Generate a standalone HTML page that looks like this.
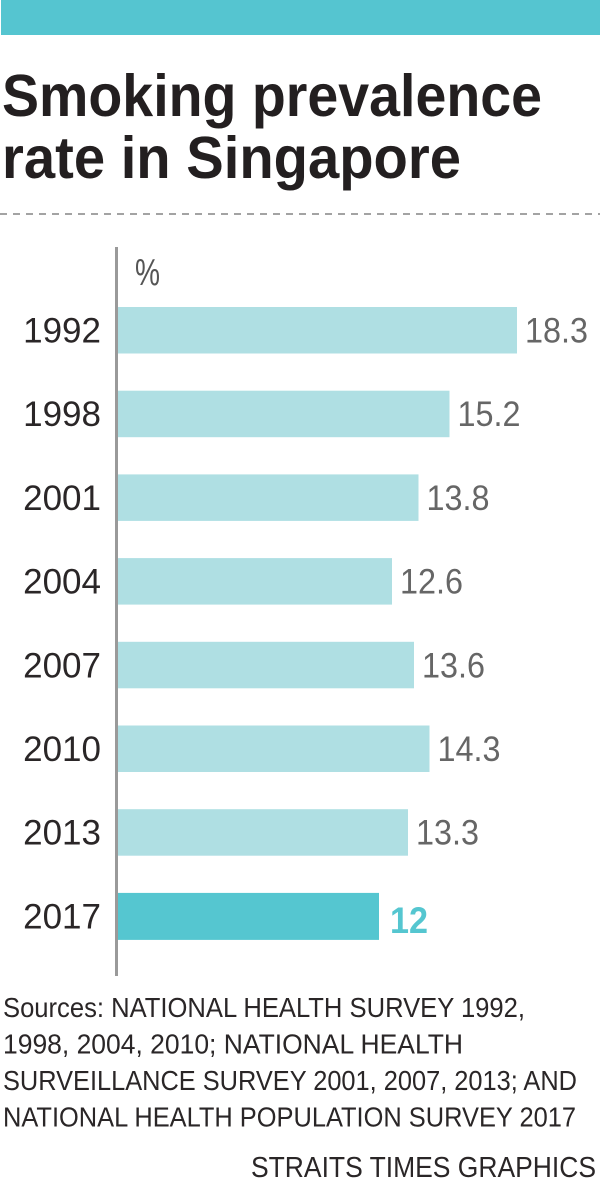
<!DOCTYPE html>
<html>
<head>
<meta charset="utf-8">
<style>
  html, body { margin: 0; padding: 0; background: #ffffff; }
  body { width: 600px; height: 1181px; overflow: hidden; }
  svg { display: block; }
  text { font-family: "Liberation Sans", "DejaVu Sans", sans-serif; }
</style>
</head>
<body>
<svg width="600" height="1181" viewBox="0 0 600 1181" xmlns="http://www.w3.org/2000/svg">
  <!-- top teal band -->
  <rect x="1" y="0" width="599" height="35" fill="#55c5d0"/>

  <!-- title -->
  <text x="2" y="116" font-size="59" font-weight="bold" fill="#231f20" textLength="540" lengthAdjust="spacingAndGlyphs">Smoking prevalence</text>
  <text x="2" y="178" font-size="59" font-weight="bold" fill="#231f20" textLength="459" lengthAdjust="spacingAndGlyphs">rate in Singapore</text>

  <!-- dashed separator -->
  <line x1="0" y1="214" x2="600" y2="214" stroke="#a3a3a3" stroke-width="2" stroke-dasharray="7,6"/>

  <!-- axis -->
  <rect x="115" y="247" width="3" height="729" fill="#9a9a9a"/>

  <!-- unit -->
  <text x="135" y="285" font-size="38" fill="#555555" textLength="25" lengthAdjust="spacingAndGlyphs">%</text>

  <!-- bars -->
  <g fill="#afdfe3">
    <rect x="118" y="307" width="399" height="46.5"/>
    <rect x="118" y="390.7" width="331.5" height="46.5"/>
    <rect x="118" y="474.4" width="300.5" height="46.5"/>
    <rect x="118" y="558.1" width="274" height="46.5"/>
    <rect x="118" y="641.8" width="296" height="46.5"/>
    <rect x="118" y="725.5" width="311.5" height="46.5"/>
    <rect x="118" y="809.2" width="290" height="46.5"/>
  </g>
  <rect x="118" y="892.9" width="261" height="47" fill="#55c6d0"/>

  <!-- year labels -->
  <g font-size="35" fill="#2a2627" text-anchor="end">
    <text x="101" y="342.5">1992</text>
    <text x="101" y="426.2">1998</text>
    <text x="101" y="509.9">2001</text>
    <text x="101" y="593.6">2004</text>
    <text x="101" y="677.3">2007</text>
    <text x="101" y="761">2010</text>
    <text x="101" y="844.7">2013</text>
    <text x="101" y="928.4">2017</text>
  </g>

  <!-- value labels -->
  <g font-size="35" fill="#666666">
    <text x="525" y="342.5" textLength="63" lengthAdjust="spacingAndGlyphs">18.3</text>
    <text x="457.5" y="426.2" textLength="63" lengthAdjust="spacingAndGlyphs">15.2</text>
    <text x="426.5" y="509.9" textLength="63" lengthAdjust="spacingAndGlyphs">13.8</text>
    <text x="400" y="593.6" textLength="63" lengthAdjust="spacingAndGlyphs">12.6</text>
    <text x="422" y="677.3" textLength="63" lengthAdjust="spacingAndGlyphs">13.6</text>
    <text x="437.5" y="761" textLength="63" lengthAdjust="spacingAndGlyphs">14.3</text>
    <text x="416" y="844.7" textLength="63" lengthAdjust="spacingAndGlyphs">13.3</text>
  </g>
  <text x="390" y="933" font-size="37" font-weight="bold" fill="#55c6d0" textLength="38" lengthAdjust="spacingAndGlyphs">12</text>

  <!-- sources -->
  <g font-size="28" fill="#2a2627">
    <text x="3" y="1017" textLength="522" lengthAdjust="spacingAndGlyphs">Sources: NATIONAL HEALTH SURVEY 1992,</text>
    <text x="3" y="1053.5" textLength="460" lengthAdjust="spacingAndGlyphs">1998, 2004, 2010; NATIONAL HEALTH</text>
    <text x="3" y="1090" textLength="574" lengthAdjust="spacingAndGlyphs">SURVEILLANCE SURVEY 2001, 2007, 2013; AND</text>
    <text x="3" y="1126.5" textLength="573" lengthAdjust="spacingAndGlyphs">NATIONAL HEALTH POPULATION SURVEY 2017</text>
  </g>

  <!-- credit -->
  <text x="251" y="1177" font-size="29" fill="#2a2627" textLength="345" lengthAdjust="spacingAndGlyphs">STRAITS TIMES GRAPHICS</text>
</svg>
</body>
</html>
